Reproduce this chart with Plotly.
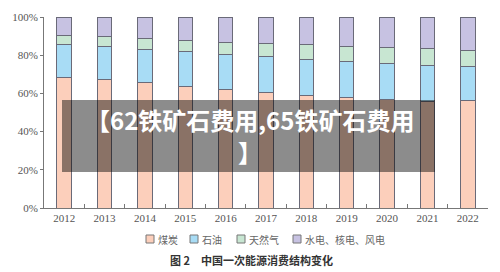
import plotly.graph_objects as go

years = ["2012", "2013", "2014", "2015", "2016", "2017", "2018", "2019", "2020", "2021", "2022"]
coal = [68.5, 67.4, 65.6, 63.7, 62.0, 60.4, 59.0, 57.7, 56.9, 55.9, 56.2]
oil = [17.0, 17.1, 17.4, 18.3, 18.5, 18.8, 18.9, 19.0, 18.8, 18.6, 17.9]
gas = [4.8, 5.3, 5.7, 5.9, 6.2, 7.0, 7.6, 8.0, 8.4, 8.8, 8.5]
clean = [9.7, 10.2, 11.3, 12.1, 13.3, 13.8, 14.5, 15.3, 15.9, 16.7, 17.4]
series_names = ["煤炭", "石油", "天然气", "水电、核电、风电"]
colors = ["#fccfbb", "#a8dcf5", "#c8e6d2", "#c7c2e2"]
title_text = "图 2　中国一次能源消费结构变化"
overlay_line1 = "【62铁矿石费用,65铁矿石费用"
overlay_line2 = "】"

W, H = 500, 272
L, R, T, B = 44, 12, 17, 64
pw, ph = W - L - R, H - T - B


def px(x):
    return (x - L) / pw


def py(y):
    return (H - B - y) / ph


fig = go.Figure()
for name, vals, col in zip(series_names, [coal, oil, gas, clean], colors):
    fig.add_trace(go.Bar(
        x=years, y=vals, name=name, width=0.36,
        marker=dict(color=col, line=dict(color="#6a6a78", width=1)),
        showlegend=False,
    ))

serif = "Liberation Serif, DejaVu Serif, serif"
cjk = "Noto Sans CJK SC"

fig.update_layout(
    width=W, height=H, barmode="stack",
    margin=dict(l=L, r=R, t=T, b=B),
    paper_bgcolor="white", plot_bgcolor="white",
    xaxis=dict(type="category", range=[-0.5, 10.5], showline=True, linecolor="#777",
               linewidth=1, ticks="inside", tickson="boundaries", ticklen=4,
               tickcolor="#777", showgrid=False,
               tickfont=dict(family=serif, size=11, color="#555")),
    yaxis=dict(range=[0, 100], dtick=20, ticksuffix="%", showline=True, linecolor="#777",
               linewidth=1, ticks="outside", ticklen=3, tickcolor="#777",
               showgrid=False, zeroline=False,
               tickfont=dict(family=serif, size=11, color="#555")),
)

shapes = []
annotations = []

# legend (manual)
sw_x = [146, 190, 237, 293]
for name, col, sx in zip(series_names, colors, sw_x):
    shapes.append(dict(type="rect", xref="paper", yref="paper",
                       x0=px(sx), x1=px(sx + 8), y0=py(243), y1=py(235),
                       fillcolor=col, line=dict(color="#777", width=1)))
    annotations.append(dict(text=name, xref="paper", yref="paper",
                            x=px(sx + 10), y=py(239.5), xanchor="left", yanchor="middle",
                            showarrow=False, font=dict(family=cjk, size=10, color="#666")))

annotations.append(dict(text=title_text, xref="paper", yref="paper",
                        x=px(251), y=py(260), xanchor="center", yanchor="middle",
                        showarrow=False, font=dict(family=cjk, size=11, color="#333", weight="bold")))

# overlay box
shapes.append(dict(type="rect", xref="paper", yref="paper",
                   x0=px(62), x1=px(435), y0=py(172), y1=py(100),
                   fillcolor="rgba(0,0,0,0.45)", line=dict(width=0), layer="above"))
annotations.append(dict(text=overlay_line1, xref="paper", yref="paper",
                        x=px(250), y=py(119), xanchor="center", yanchor="middle",
                        showarrow=False, font=dict(family=cjk, size=24, color="white", weight="bold")))
annotations.append(dict(text=overlay_line2, xref="paper", yref="paper",
                        x=px(250), y=py(151), xanchor="center", yanchor="middle",
                        showarrow=False, font=dict(family=cjk, size=24, color="white", weight="bold")))

fig.update_layout(shapes=shapes, annotations=annotations)
fig.write_html("out.html")
